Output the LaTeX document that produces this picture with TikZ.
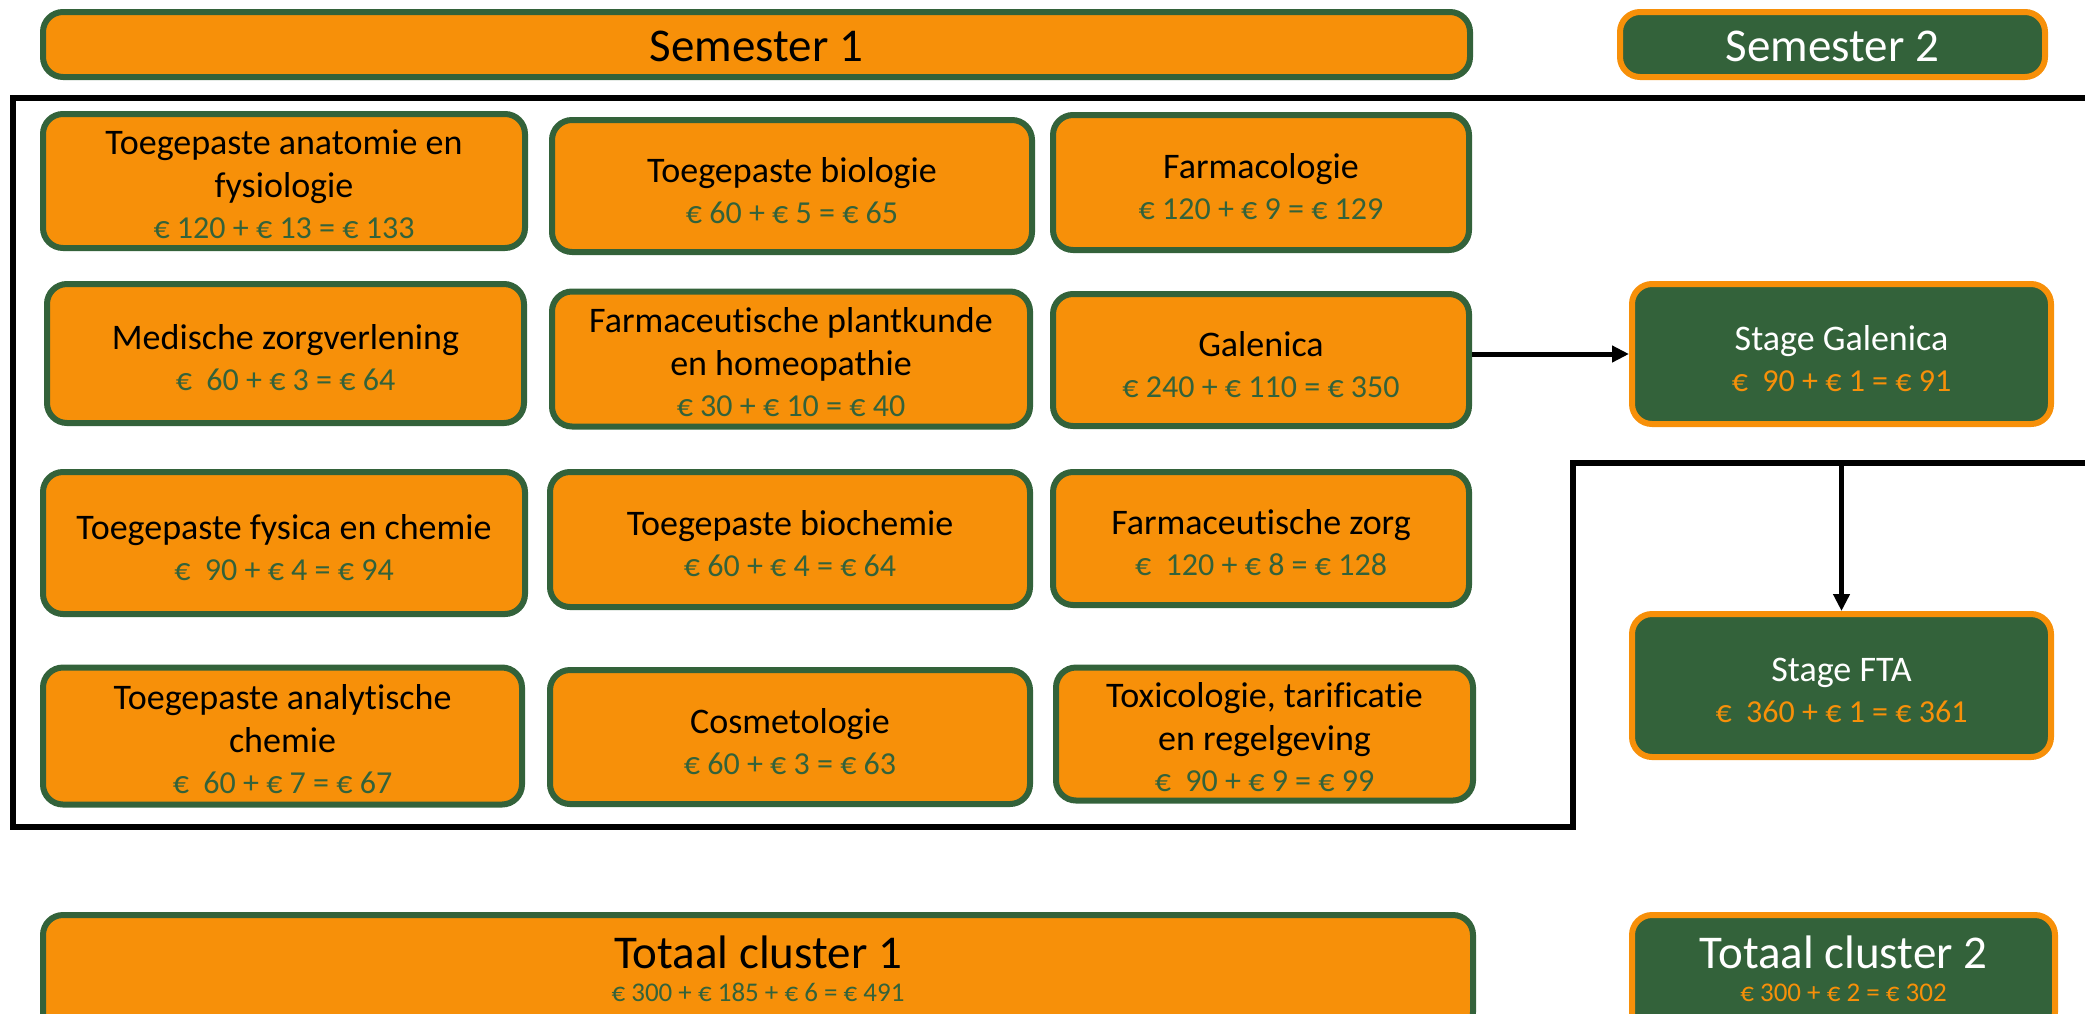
\documentclass[tikz,border=0pt]{standalone}
\usepackage{fontspec}
\setmainfont{Carlito}[RawFeature={-liga;-dlig;-clig}]
\usetikzlibrary{arrows.meta}
\definecolor{kor}{HTML}{F79009}
\definecolor{kgr}{HTML}{33623A}
\newcommand\pricegreen[1]{{\fontsize{32}{43}\selectfont\color{kgr}#1}}
\newcommand\priceorange[1]{{\fontsize{32}{43}\selectfont\color{kor}#1}}
\newcommand\lowerstrut{\rule{0pt}{34pt}}
\newcommand\smallstrut{\rule{0pt}{31pt}}
\newcommand\depthstrut{\rule[-9pt]{0pt}{9pt}}
\begin{document}
\begin{tikzpicture}[x=1pt,y=-1pt,
  obox/.style={draw=kgr,fill=kor,line width=6pt,rounded corners=20pt,align=center,inner sep=0pt,font=\fontsize{36}{43}\selectfont,text=black},
  gbox/.style={draw=kor,fill=kgr,line width=6pt,rounded corners=20pt,align=center,inner sep=0pt,font=\fontsize{36}{43}\selectfont,text=white},
  frameline/.style={line width=6pt},
  arr/.style={line width=5pt,-{Triangle[length=17pt,width=16pt]}}]
\useasboundingbox (0,0) rectangle (2085,1013);

% header
\node[obox,minimum width=1427pt,minimum height=65pt,font=\fontsize{47}{56}\selectfont] (sem1) at (756.5,44.5) {\lowerstrut Semester 1};
\node[gbox,minimum width=425pt,minimum height=65pt,font=\fontsize{47}{56}\selectfont] (sem2) at (1832.5,44.5) {\lowerstrut Semester 2};

% frame
\draw[frameline] (2095,98) -- (13,98) -- (13,827) -- (1573,827) -- (1573,463) -- (2095,463);
\coordinate (fa) at (1841.5,463);

% row 1
\node[obox,minimum width=482pt,minimum height=134pt] (a1) at (284,181) {\smallstrut Toegepaste anatomie en\\fysiologie\\[-2pt]\pricegreen{€ 120 + € 13 = € 133}};
\node[obox,minimum width=480pt,minimum height=132pt] (a2) at (792,186) {\lowerstrut Toegepaste biologie\\[-2pt]\pricegreen{€ 60 + € 5 = € 65}};
\node[obox,minimum width=416pt,minimum height=135pt] (a3) at (1261,182.5) {\lowerstrut Farmacologie\\[-2pt]\pricegreen{€ 120 + € 9 = € 129}};

% row 2
\node[obox,minimum width=477pt,minimum height=139pt] (b1) at (285.5,353.5) {\lowerstrut Medische zorgverlening\\[-2pt]\pricegreen{€\ \ 60 + € 3 = € 64}};
\node[obox,minimum width=478pt,minimum height=135pt] (b2) at (791,359) {\smallstrut Farmaceutische plantkunde\\en homeopathie\\[-2pt]\pricegreen{€ 30 + € 10 = € 40}};
\node[obox,minimum width=416pt,minimum height=132pt] (b3) at (1261,360) {\lowerstrut Galenica\\[-2pt]\pricegreen{€ 240 + € 110 = € 350}};
\node[gbox,minimum width=419pt,minimum height=140pt] (sg) at (1841.5,354) {\lowerstrut Stage Galenica\\[-2pt]\priceorange{€\ \ 90 + € 1 = € 91}};

% row 3
\node[obox,minimum width=482pt,minimum height=142pt] (c1) at (284,543) {\lowerstrut Toegepaste fysica en chemie\\[-2pt]\pricegreen{€\ \ 90 + € 4 = € 94}};
\node[obox,minimum width=480pt,minimum height=135pt] (c2) at (790,539.5) {\lowerstrut Toegepaste biochemie\\[-2pt]\pricegreen{€ 60 + € 4 = € 64}};
\node[obox,minimum width=416pt,minimum height=133pt] (c3) at (1261,538.5) {\lowerstrut Farmaceutische zorg\\[-2pt]\pricegreen{€\ \ 120 + € 8 = € 128}};

% row 4
\node[obox,minimum width=479pt,minimum height=137pt] (d1) at (282.5,736) {\smallstrut Toegepaste analytische\\chemie\\[-2pt]\pricegreen{€\ \ 60 + € 7 = € 67}};
\node[obox,minimum width=480pt,minimum height=134pt] (d2) at (790,737) {\lowerstrut Cosmetologie\\[-2pt]\pricegreen{€ 60 + € 3 = € 63}};
\node[obox,minimum width=417pt,minimum height=133pt] (d3) at (1264.5,734) {\smallstrut Toxicologie, tarificatie\\en regelgeving\\[-2pt]\pricegreen{€\ \ 90 + € 9 = € 99}};
\node[gbox,minimum width=419pt,minimum height=143pt] (fta) at (1841.5,685.5) {\lowerstrut Stage FTA\\[-2pt]\priceorange{€\ \ 360 + € 1 = € 361}};

% totals
\node[obox,minimum width=1430pt,minimum height=117pt,font=\fontsize{27}{33}\selectfont] (t1) at (758,973.5) {{\fontsize{47}{33}\selectfont Totaal cluster 1}\\{\color{kgr}€ 300 + € 185 + € 6 = € 491}\depthstrut};
\node[gbox,minimum width=423pt,minimum height=117pt,font=\fontsize{27}{33}\selectfont] (t2) at (1843.5,973.5) {{\fontsize{47}{33}\selectfont Totaal cluster 2}\\{\color{kor}€ 300 + € 2 = € 302}\depthstrut};

% arrows
\draw[arr] (b3.east |- sg.west) -- (sg.west);
\draw[arr] (fa) -- (fta.north);
\end{tikzpicture}
\end{document}
